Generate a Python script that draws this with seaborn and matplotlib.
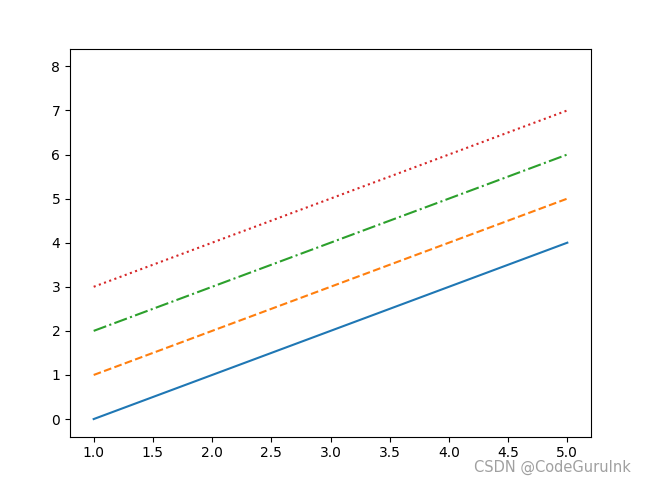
import numpy as np
import pandas as pd
import matplotlib
matplotlib.use('Agg')
import matplotlib.pyplot as plt
import seaborn as sns

# data
x = [1, 2, 3, 4, 5]
y_solid = [0, 1, 2, 3, 4]
y_dashed = [1, 2, 3, 4, 5]
y_dashdot = [2, 3, 4, 5, 6]
y_dotted = [3, 4, 5, 6, 7]

series = [y_solid, y_dashed, y_dashdot, y_dotted]
styles = ['-', '--', '-.', ':']
colors = ['#1f77b4', '#ff7f0e', '#2ca02c', '#d62728']

fig = plt.figure(figsize=(6.47, 4.83), dpi=100)
ax = fig.add_axes([70 / 647, 1 - 436.7 / 483, 521 / 647, 388 / 483])

for ys, ls, c in zip(series, styles, colors):
    df = pd.DataFrame({'x': x, 'y': ys})
    sns.lineplot(data=df, x='x', y='y', ax=ax, color=c, linestyle=ls, linewidth=1.5)

ax.set_xlim(0.8, 5.2)
ax.set_ylim(-0.4, 8.4)
ax.set_xlabel('')
ax.set_ylabel('')
ax.set_xticks(np.arange(1.0, 5.01, 0.5))
ax.set_xticklabels([f'{v:.1f}' for v in np.arange(1.0, 5.01, 0.5)])
ax.set_yticks(range(0, 9))

# watermark
fig.text(631 / 647, 1 - 467 / 483, 'CSDN @CodeGuruInk', ha='right', va='center',
         fontsize=10.5, color='#a0a0a0')

fig.savefig('out.png', dpi=100)
